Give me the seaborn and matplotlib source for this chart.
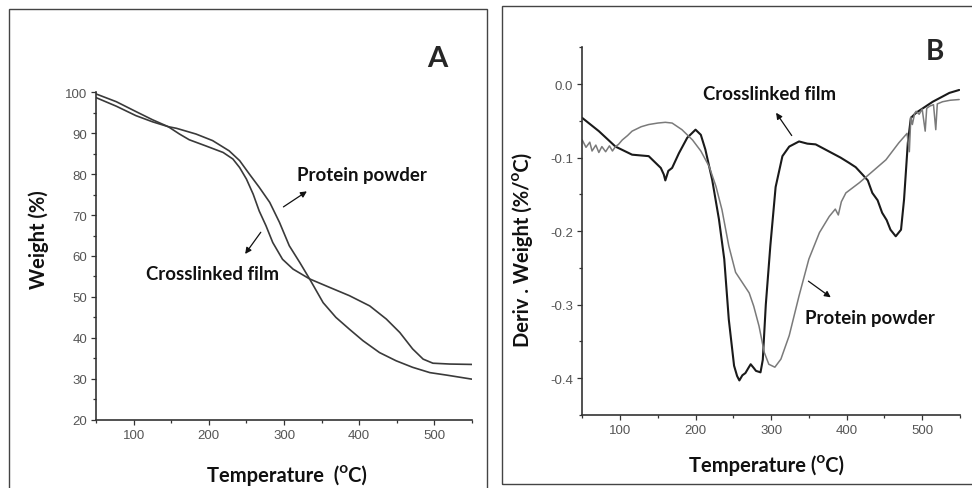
import numpy as np
import pandas as pd
import seaborn as sns
import matplotlib.pyplot as plt
from matplotlib.patches import Rectangle
from matplotlib.ticker import MultipleLocator

# ---- panel A: TGA weight (%) ----
tga_temp_film = [50, 77, 103, 125, 146, 161, 174, 196, 219, 232, 241, 250, 259, 267, 276,
                 285, 298, 312, 334, 361, 387, 414, 436, 454, 471, 485, 498, 520, 550]
tga_weight_film = [99.6, 97.7, 95.3, 93.3, 91.6, 89.8, 88.4, 86.9, 85.3, 83.7, 81.6, 78.8,
                   75.1, 71.0, 67.4, 63.3, 59.2, 56.8, 54.4, 52.3, 50.3, 47.8, 44.6, 41.3,
                   37.3, 34.8, 33.8, 33.6, 33.5]
tga_temp_powder = [50, 77, 103, 125, 146, 157, 183, 205, 227, 241, 254, 267, 281, 294,
                   307, 321, 334, 352, 369, 387, 405, 427, 449, 471, 494, 516, 550]
tga_weight_powder = [98.7, 96.6, 94.3, 92.8, 91.6, 91.2, 89.8, 88.2, 85.7, 83.3, 80.0, 76.8,
                     73.1, 68.2, 62.5, 58.4, 54.4, 48.6, 45.0, 42.1, 39.3, 36.4, 34.4, 32.8,
                     31.5, 30.9, 29.9]

# ---- panel B: DTG deriv. weight (%/C) ----
dtg_temp_film = [50, 72, 94, 116, 138, 147, 154, 158, 160, 164, 169, 178, 189, 196, 200,
                 207, 213, 222, 231, 238, 244, 251, 255, 258, 262, 266, 270, 273, 277,
                 280, 286, 289, 293, 299, 306, 315, 324, 337, 348, 359, 370, 381, 392,
                 403, 412, 421, 428, 434, 441, 447, 453, 458, 465, 472, 476, 481, 485,
                 492, 514, 536, 549]
dtg_deriv_film = [-0.046, -0.064, -0.085, -0.096, -0.098, -0.107, -0.114, -0.123, -0.131,
                  -0.118, -0.114, -0.094, -0.073, -0.066, -0.062, -0.069, -0.089, -0.130,
                  -0.184, -0.238, -0.320, -0.383, -0.397, -0.403, -0.396, -0.393, -0.386,
                  -0.381, -0.386, -0.390, -0.392, -0.375, -0.300, -0.220, -0.140, -0.098,
                  -0.085, -0.078, -0.081, -0.082, -0.088, -0.094, -0.100, -0.107, -0.113,
                  -0.123, -0.131, -0.148, -0.158, -0.175, -0.185, -0.198, -0.207, -0.198,
                  -0.157, -0.080, -0.046, -0.039, -0.024, -0.012, -0.008]
dtg_temp_powder = [50, 55, 60, 63, 68, 72, 76, 81, 86, 90, 94, 98, 103, 110, 116, 128,
                   138, 150, 160, 169, 182, 196, 207, 218, 227, 235, 244, 253, 262, 271,
                   277, 284, 291, 297, 305, 313, 324, 337, 350, 364, 377, 385, 389, 393,
                   399, 417, 434, 452, 469, 480, 483, 485, 487, 490, 492, 496, 500, 504,
                   506, 510, 515, 518, 520, 527, 537, 549]
dtg_deriv_powder = [-0.076, -0.086, -0.079, -0.091, -0.083, -0.093, -0.085, -0.092, -0.084,
                    -0.091, -0.085, -0.082, -0.076, -0.070, -0.064, -0.058, -0.055, -0.053,
                    -0.052, -0.053, -0.062, -0.076, -0.091, -0.112, -0.139, -0.171, -0.220,
                    -0.256, -0.270, -0.284, -0.302, -0.329, -0.365, -0.381, -0.385, -0.374,
                    -0.342, -0.288, -0.238, -0.202, -0.180, -0.170, -0.178, -0.160, -0.148,
                    -0.134, -0.119, -0.103, -0.080, -0.067, -0.092, -0.045, -0.055, -0.040,
                    -0.037, -0.041, -0.034, -0.064, -0.033, -0.030, -0.028, -0.062, -0.027,
                    -0.024, -0.022, -0.021]

sns.set_style("ticks")
plt.rcParams['font.family'] = ['Lato', 'DejaVu Sans']

tga = pd.concat([
    pd.DataFrame({'temp': tga_temp_film, 'val': tga_weight_film, 'sample': 'film'}),
    pd.DataFrame({'temp': tga_temp_powder, 'val': tga_weight_powder, 'sample': 'powder'}),
])
dtg = pd.concat([
    pd.DataFrame({'temp': dtg_temp_film, 'val': dtg_deriv_film, 'sample': 'film'}),
    pd.DataFrame({'temp': dtg_temp_powder, 'val': dtg_deriv_powder, 'sample': 'powder'}),
])

fig = plt.figure(figsize=(9.72, 4.89), dpi=100)
axA = fig.add_axes([0.0988, 0.1397, 0.3868, 0.6695])
axB = fig.add_axes([0.5990, 0.1493, 0.3886, 0.7519])

sns.lineplot(data=tga, x='temp', y='val', hue='sample', palette={'film': '#3a3a3a', 'powder': '#3a3a3a'},
             sort=False, estimator=None, lw=1.2, legend=False, ax=axA)
sns.lineplot(data=dtg, x='temp', y='val', hue='sample', palette={'film': '#1a1a1a', 'powder': '#7a7a7a'},
             sort=False, estimator=None, legend=False, ax=axB)
axB.lines[0].set_linewidth(1.5)
axB.lines[1].set_linewidth(1.1)

tick_family = ['Liberation Sans', 'DejaVu Sans']
for ax in (axA, axB):
    sns.despine(ax=ax)
    for side in ('left', 'bottom'):
        ax.spines[side].set_color('#333333')
        ax.spines[side].set_linewidth(1.2)
    ax.set_xlim(50, 550)
    ax.set_xticks([100, 200, 300, 400, 500])
    ax.xaxis.set_minor_locator(MultipleLocator(50))
    ax.tick_params(which='major', length=3.5, width=0.9, color='#333333', labelcolor='#555555', pad=3)
    ax.tick_params(which='minor', length=2.5, width=0.9, color='#333333')

axA.set_ylim(20, 100)
axA.yaxis.set_major_locator(MultipleLocator(10))
axA.yaxis.set_minor_locator(MultipleLocator(5))
axB.set_ylim(-0.45, 0.05)
axB.set_yticks([0.0, -0.1, -0.2, -0.3, -0.4])
axB.set_yticklabels(['0.0', '-0.1', '-0.2', '-0.3', '-0.4'])
axB.yaxis.set_minor_locator(MultipleLocator(0.05))
for ax in (axA, axB):
    for lab in ax.get_xticklabels() + ax.get_yticklabels():
        lab.set_fontfamily(tick_family)
        lab.set_fontsize(9.5)

lab_kw = dict(fontsize=14.5, fontweight='bold', color='#111111')
axA.set_xlabel('Temperature  (ᴼC)', **lab_kw)
axA.set_ylabel('Weight (%)', **lab_kw)
axA.xaxis.set_label_coords(0.508, -0.135)
axA.yaxis.set_label_coords(-0.125, 0.552)
axB.set_xlabel('Temperature (ᴼC)', **lab_kw)
axB.set_ylabel('Deriv . Weight (%/ᴼC)', **lab_kw)
axB.xaxis.set_label_coords(0.488, -0.105)
axB.yaxis.set_label_coords(-0.13, 0.451)

ann_kw = dict(fontsize=13.4, fontweight='bold', color='#111111', ha='center', va='center')
arrow = dict(arrowstyle='-|>', color='#111111', lw=0.9, mutation_scale=9, shrinkA=0, shrinkB=0)
axA.text(404, 79.8, 'Protein powder', **ann_kw)
axA.annotate('', xy=(330.4, 75.8), xytext=(299.2, 72.0), arrowprops=arrow)
axA.text(205, 55.8, 'Crosslinked film', **ann_kw)
axA.annotate('', xy=(248.3, 60.5), xytext=(269.1, 65.8), arrowprops=arrow)

axB.text(297.5, -0.0127, 'Crosslinked film', **ann_kw)
axB.annotate('', xy=(306.6, -0.039), xytext=(327.3, -0.070), arrowprops=arrow)
axB.text(431, -0.318, 'Protein powder', **ann_kw)
axB.annotate('', xy=(379, -0.290), xytext=(349.4, -0.268), arrowprops=arrow)

fig.text(437 / 972, 1 - 66.7 / 489, 'A', fontsize=21, fontweight='bold', ha='center', va='baseline')
fig.text(935 / 972, 1 - 60 / 489, 'B', fontsize=20, fontweight='bold', ha='center', va='baseline')

# panel frames
fig.add_artist(Rectangle((9 / 972, -0.02), (487 - 9) / 972, 1.02 - 10 / 489, transform=fig.transFigure,
                         fill=False, edgecolor='#444444', lw=1.0))
fig.add_artist(Rectangle((502 / 972, 1 - 485 / 489), 0.5, (485 - 7) / 489, transform=fig.transFigure,
                         fill=False, edgecolor='#444444', lw=1.0))

fig.savefig('out.png', dpi=100)
